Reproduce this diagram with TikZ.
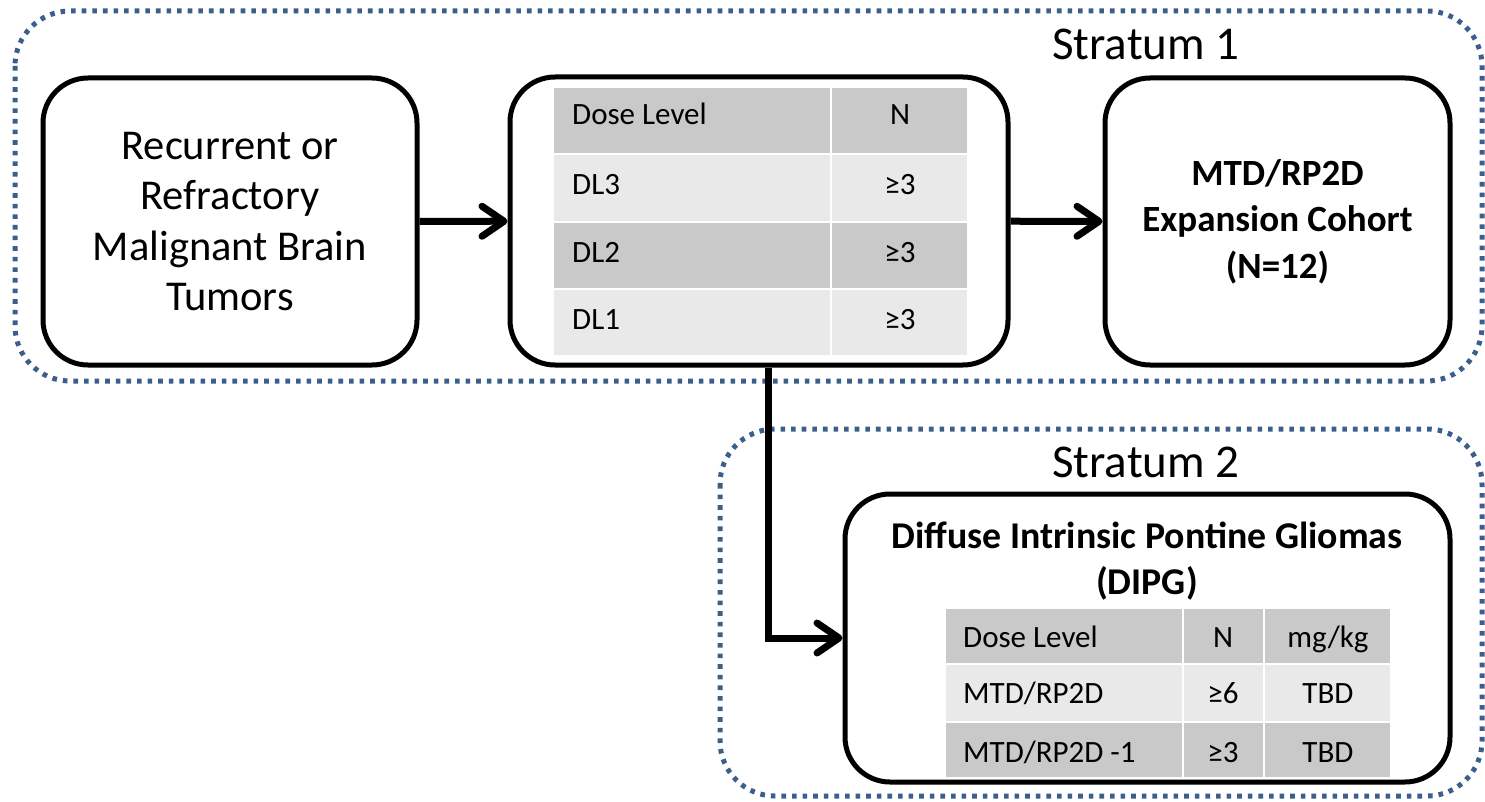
\documentclass[tikz,border=0pt]{standalone}
\usepackage{fontspec}
\setmainfont{Carlito}
\usetikzlibrary{arrows.meta}
\definecolor{stratblue}{RGB}{59,94,140}
\definecolor{celldark}{RGB}{201,201,201}
\definecolor{celllight}{RGB}{233,233,233}
\begin{document}
\begin{tikzpicture}[x=1pt,y=-1pt,
  stratum/.style={draw=stratblue, line width=5pt, dash pattern=on 4.6pt off 6pt, rounded corners=55pt},
  box/.style={draw=black, line width=5pt, rounded corners=45pt, fill=white, inner sep=0pt},
  flow/.style={line width=7pt, -{Straight Barb[length=22pt,width=30pt,round]}},
  cellD/.style={fill=celldark, draw=white, line width=2.5pt},
  cellL/.style={fill=celllight, draw=white, line width=2.5pt},
  tabtxt/.style={font=\fontsize{31}{36}\selectfont, inner sep=0pt},
  strattxt/.style={font=\fontsize{47}{56}\selectfont, inner sep=0pt, anchor=base west},
  boldtxt/.style={font=\bfseries\fontsize{37.8}{46}\selectfont, inner sep=0pt, anchor=base}
]
\useasboundingbox (0,0) rectangle (1485,802);
\fill[white] (0,0) rectangle (1485,802);

% strata
\draw[stratum] (15,11) rectangle (1482,381);
\draw[stratum] (720,429) rectangle (1482,796);
\node[strattxt] (s1) at (1052,60) {Stratum 1};
\node[strattxt] (s2) at (1052,477) {Stratum 2};

% boxes
\node[box, minimum width=374pt, minimum height=287pt, align=center,
      font=\fontsize{42.5}{50.5}\selectfont] (A) at (230,221.5)
      {Recurrent or\\Refractory\\Malignant Brain\\Tumors};
\node[box, minimum width=498pt, minimum height=288pt] (B) at (759,221) {};
\node[box, minimum width=345pt, minimum height=287pt, align=center,
      font=\bfseries\fontsize{37}{46.5}\selectfont] (C) at (1277.5,221.5)
      {MTD/RP2D\\Expansion Cohort\\(N=12)};
\node[box, minimum width=605pt, minimum height=288pt] (D) at (1147.5,638) {};

% table in B
\path[cellD] (553,87) rectangle (831,154);
\path[cellD] (831,87) rectangle (968,154);
\path[cellL] (553,154) rectangle (831,222);
\path[cellL] (831,154) rectangle (968,222);
\path[cellD] (553,222) rectangle (831,289);
\path[cellD] (831,222) rectangle (968,289);
\path[cellL] (553,289) rectangle (831,356);
\path[cellL] (831,289) rectangle (968,356);
\node[tabtxt, anchor=base west] (bh1) at (572,125) {Dose Level};
\node[tabtxt, anchor=base] (bh2) at (900,125) {N};
\node[tabtxt, anchor=base west] (b31) at (572,195) {DL3};
\node[tabtxt, anchor=base] (b32) at (900,195) {≥3};
\node[tabtxt, anchor=base west] (b21) at (572,262) {DL2};
\node[tabtxt, anchor=base] (b22) at (900,262) {≥3};
\node[tabtxt, anchor=base west] (b11) at (572,329) {DL1};
\node[tabtxt, anchor=base] (b12) at (900,329) {≥3};

% title and table in D
\node[boldtxt] (d1) at (1147,548) {Diffuse Intrinsic Pontine Gliomas};
\node[boldtxt] (d2) at (1147,594) {(DIPG)};
\path[cellD] (945,608) rectangle (1183,664);
\path[cellD] (1183,608) rectangle (1264,664);
\path[cellD] (1264,608) rectangle (1391,664);
\path[cellL] (945,664) rectangle (1183,722);
\path[cellL] (1183,664) rectangle (1264,722);
\path[cellL] (1264,664) rectangle (1391,722);
\path[cellD] (945,722) rectangle (1183,778);
\path[cellD] (1183,722) rectangle (1264,778);
\path[cellD] (1264,722) rectangle (1391,778);
\node[tabtxt, anchor=base west] (dh1) at (963,647) {Dose Level};
\node[tabtxt, anchor=base] (dh2) at (1223,647) {N};
\node[tabtxt, anchor=base] (dh3) at (1328,647) {mg/kg};
\node[tabtxt, anchor=base west] (da1) at (963,703) {MTD/RP2D};
\node[tabtxt, anchor=base] (da2) at (1223,703) {≥6};
\node[tabtxt, anchor=base] (da3) at (1328,703) {TBD};
\node[tabtxt, anchor=base west] (db1) at (963,762) {MTD/RP2D -1};
\node[tabtxt, anchor=base] (db2) at (1223,762) {≥3};
\node[tabtxt, anchor=base] (db3) at (1328,762) {TBD};

% connectors
\draw[flow] (A) -- (B);
\draw[flow] (B) -- (C);
\draw[flow] ([xshift=9pt]B.south) |- (D.west);
\end{tikzpicture}
\end{document}
